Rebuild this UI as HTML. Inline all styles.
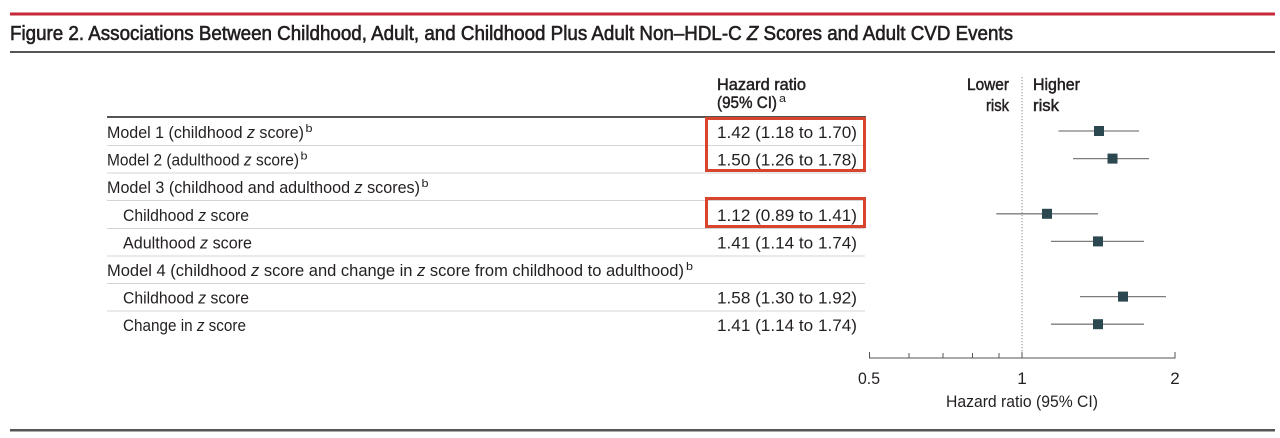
<!DOCTYPE html>
<html>
<head>
<meta charset="utf-8">
<style>
html,body{margin:0;padding:0;background:#fff;}
svg{display:block;}
text{font-family:"Liberation Sans",sans-serif;fill:#231f20;}
.t{font-size:17px;}
.sup{font-size:11px;}
.hd{font-size:17px;stroke:#231f20;stroke-width:0.5px;}
.ttl{font-size:20px;stroke:#231f20;stroke-width:0.6px;}
</style>
</head>
<body>
<svg width="1280" height="438" viewBox="0 0 1280 438" xmlns="http://www.w3.org/2000/svg">
  <rect x="0" y="0" width="1280" height="438" fill="#fff"/>
  <!-- top red rule -->
  <rect x="10" y="12.5" width="1265" height="3" fill="#c62839"/>
  <!-- title -->
  <text class="ttl" x="10" y="40" textLength="1003" lengthAdjust="spacingAndGlyphs">Figure 2. Associations Between Childhood, Adult, and Childhood Plus Adult Non–HDL-C <tspan font-style="italic">Z</tspan> Scores and Adult CVD Events</text>
  <rect x="10" y="51" width="1265" height="2" fill="#555"/>

  <!-- column header -->
  <text class="hd" x="717" y="90" textLength="89" lengthAdjust="spacingAndGlyphs">Hazard ratio</text>
  <text class="hd" x="717" y="108" textLength="60" lengthAdjust="spacingAndGlyphs">(95% CI)</text>
  <text class="sup" x="779" y="102" textLength="7" lengthAdjust="spacingAndGlyphs">a</text>

  <!-- Lower / Higher risk -->
  <text class="hd" x="1009" y="90" text-anchor="end" textLength="42" lengthAdjust="spacingAndGlyphs">Lower</text>
  <text class="hd" x="1009" y="111" text-anchor="end" textLength="23" lengthAdjust="spacingAndGlyphs">risk</text>
  <text class="hd" x="1033" y="90" textLength="47" lengthAdjust="spacingAndGlyphs">Higher</text>
  <text class="hd" x="1033" y="111" textLength="26" lengthAdjust="spacingAndGlyphs">risk</text>

  <!-- table top rule -->
  <rect x="107" y="116" width="759" height="2" fill="#555"/>
  <!-- row separators -->
  <g fill="#d4d4d4">
    <rect x="107" y="145" width="758" height="1"/>
    <rect x="107" y="172.5" width="758" height="1"/>
    <rect x="107" y="200" width="758" height="1"/>
    <rect x="107" y="228" width="758" height="1"/>
    <rect x="107" y="255.5" width="758" height="1"/>
    <rect x="107" y="283" width="758" height="1"/>
    <rect x="107" y="310.5" width="758" height="1"/>
  </g>

  <!-- row labels -->
  <text class="t" x="107" y="138" textLength="197" lengthAdjust="spacingAndGlyphs">Model 1 (childhood <tspan font-style="italic">z</tspan> score)</text>
  <text class="sup" x="305.5" y="132" textLength="7" lengthAdjust="spacingAndGlyphs">b</text>

  <text class="t" x="107" y="165.6" textLength="192" lengthAdjust="spacingAndGlyphs">Model 2 (adulthood <tspan font-style="italic">z</tspan> score)</text>
  <text class="sup" x="300.5" y="159.6" textLength="7" lengthAdjust="spacingAndGlyphs">b</text>

  <text class="t" x="107" y="193.2" textLength="313" lengthAdjust="spacingAndGlyphs">Model 3 (childhood and adulthood <tspan font-style="italic">z</tspan> scores)</text>
  <text class="sup" x="421.5" y="187.2" textLength="7" lengthAdjust="spacingAndGlyphs">b</text>

  <text class="t" x="123" y="220.8" textLength="126" lengthAdjust="spacingAndGlyphs">Childhood <tspan font-style="italic">z</tspan> score</text>
  <text class="t" x="123" y="248.4" textLength="129" lengthAdjust="spacingAndGlyphs">Adulthood <tspan font-style="italic">z</tspan> score</text>

  <text class="t" x="107" y="276" textLength="577" lengthAdjust="spacingAndGlyphs">Model 4 (childhood <tspan font-style="italic">z</tspan> score and change in <tspan font-style="italic">z</tspan> score from childhood to adulthood)</text>
  <text class="sup" x="686" y="270" textLength="7" lengthAdjust="spacingAndGlyphs">b</text>

  <text class="t" x="123" y="303.6" textLength="126" lengthAdjust="spacingAndGlyphs">Childhood <tspan font-style="italic">z</tspan> score</text>
  <text class="t" x="123" y="331.2" textLength="123" lengthAdjust="spacingAndGlyphs">Change in <tspan font-style="italic">z</tspan> score</text>

  <!-- values -->
  <g>
    <text class="t" x="717" y="138" textLength="140" lengthAdjust="spacingAndGlyphs">1.42 (1.18 to 1.70)</text>
    <text class="t" x="717" y="165.6" textLength="140" lengthAdjust="spacingAndGlyphs">1.50 (1.26 to 1.78)</text>
    <text class="t" x="717" y="220.8" textLength="140" lengthAdjust="spacingAndGlyphs">1.12 (0.89 to 1.41)</text>
    <text class="t" x="717" y="248.4" textLength="140" lengthAdjust="spacingAndGlyphs">1.41 (1.14 to 1.74)</text>
    <text class="t" x="717" y="303.6" textLength="140" lengthAdjust="spacingAndGlyphs">1.58 (1.30 to 1.92)</text>
    <text class="t" x="717" y="331.2" textLength="140" lengthAdjust="spacingAndGlyphs">1.41 (1.14 to 1.74)</text>
  </g>

  <!-- red highlight boxes -->
  <rect x="706.5" y="118.5" width="158" height="52" fill="none" stroke="#d9442e" stroke-width="3"/>
  <rect x="706.5" y="198.5" width="158" height="28" fill="none" stroke="#d9442e" stroke-width="3"/>

  <!-- dotted reference line -->
  <line x1="1022" y1="77" x2="1022" y2="358" stroke="#8a8a8a" stroke-width="1" stroke-dasharray="1.2,1.8"/>

  <!-- CIs and markers -->
  <g stroke="#7d7d7d" stroke-width="1.3">
    <line x1="1058.5" y1="131" x2="1139" y2="131"/>
    <line x1="1073" y1="158.6" x2="1149" y2="158.6"/>
    <line x1="996.3" y1="213.8" x2="1098" y2="213.8"/>
    <line x1="1051" y1="241.4" x2="1144" y2="241.4"/>
    <line x1="1080" y1="296.6" x2="1166" y2="296.6"/>
    <line x1="1051" y1="324.2" x2="1144" y2="324.2"/>
  </g>
  <g fill="#2b474f">
    <rect x="1094" y="126" width="10" height="10"/>
    <rect x="1107.5" y="153.6" width="10" height="10"/>
    <rect x="1042" y="208.8" width="10" height="10"/>
    <rect x="1093" y="236.4" width="10" height="10"/>
    <rect x="1118" y="291.6" width="10" height="10"/>
    <rect x="1093" y="319.2" width="10" height="10"/>
  </g>

  <!-- axis -->
  <g stroke="#555" stroke-width="1">
    <line x1="869" y1="358" x2="1175.5" y2="358"/>
    <line x1="869.5" y1="352" x2="869.5" y2="358"/>
    <line x1="909" y1="353" x2="909" y2="358"/>
    <line x1="943" y1="353" x2="943" y2="358"/>
    <line x1="972.5" y1="353" x2="972.5" y2="358"/>
    <line x1="999" y1="353" x2="999" y2="358"/>
    <line x1="1022" y1="352" x2="1022" y2="358"/>
    <line x1="1175" y1="352" x2="1175" y2="358"/>
  </g>
  <text class="t" x="869" y="384" text-anchor="middle" textLength="22" lengthAdjust="spacingAndGlyphs">0.5</text>
  <text class="t" x="1022" y="384" text-anchor="middle">1</text>
  <text class="t" x="1175" y="384" text-anchor="middle">2</text>
  <text class="t" x="1022" y="407" text-anchor="middle" textLength="152" lengthAdjust="spacingAndGlyphs">Hazard ratio (95% CI)</text>

  <!-- bottom rule -->
  <rect x="10" y="429" width="1265" height="2.5" fill="#555"/>
</svg>
</body>
</html>
